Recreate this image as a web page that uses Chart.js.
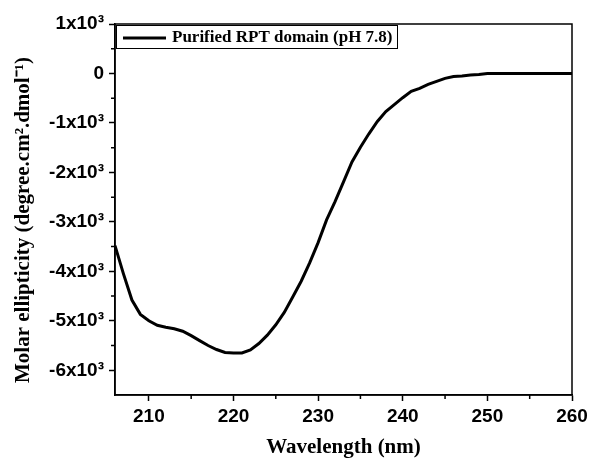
<!DOCTYPE html>
<html>
<head>
<meta charset="utf-8">
<script src="https://cdn.jsdelivr.net/npm/chart.js@4.4.1/dist/chart.umd.min.js"></script>
<style>
html,body{margin:0;padding:0;background:#fff;}
#wrap{width:592px;height:460px;position:relative;}
</style>
</head>
<body>
<div id="wrap"><canvas id="c" width="592" height="460"></canvas></div>
<script>
// ---- data ----
const wavelength = [206,207,208,209,210,211,212,213,214,215,216,217,218,219,220,221,222,223,224,225,226,227,228,229,230,231,232,233,234,235,236,237,238,239,240,241,242,243,244,245,246,247,248,249,250,251,252,253,254,255,256,257,258,259,260];
const ellipticity = [-3480,-4050,-4580,-4870,-5000,-5090,-5130,-5160,-5210,-5300,-5400,-5500,-5580,-5640,-5650,-5650,-5590,-5460,-5290,-5080,-4830,-4520,-4200,-3830,-3420,-2960,-2590,-2190,-1790,-1490,-1220,-970,-770,-630,-490,-360,-300,-220,-160,-100,-60,-50,-30,-20,0,0,0,0,0,0,0,0,0,0,0];
const seriesLabel = "Purified RPT domain (pH 7.8)";
const xMajorTicks = [210,220,230,240,250,260];
const xMinorTicks = [215,225,235,245,255];
const yMajorTicks = [-6000,-5000,-4000,-3000,-2000,-1000,0,1000];
const yMajorLabels = ["-6x10\u00B3","-5x10\u00B3","-4x10\u00B3","-3x10\u00B3","-2x10\u00B3","-1x10\u00B3","0","1x10\u00B3"];
const yMinorTicks = [-5500,-4500,-3500,-2500,-1500,-500,500];
const xTitle = "Wavelength (nm)";
const yTitle = "Molar ellipticity (degree.cm\u00B2.dmol\u207B\u00B9)";

const tickFont = {family: "'Liberation Sans', Arial, sans-serif", size: 19, weight: 'bold'};
const titleFont = {family: "'Liberation Serif', 'Times New Roman', serif", size: 21, weight: 'bold'};

const framePlugin = {
  id: 'frame',
  afterDraw(chart) {
    const {ctx, chartArea: a, scales} = chart;
    ctx.save();
    ctx.strokeStyle = '#000';
    ctx.lineWidth = 1.5;
    ctx.strokeRect(a.left, a.top, a.right - a.left, a.bottom - a.top);
    // minor ticks
    ctx.beginPath();
    xMinorTicks.forEach(v => {
      const x = scales.x.getPixelForValue(v);
      ctx.moveTo(x, a.bottom); ctx.lineTo(x, a.bottom + 4);
    });
    yMinorTicks.forEach(v => {
      const y = scales.y.getPixelForValue(v);
      ctx.moveTo(a.left, y); ctx.lineTo(a.left - 4, y);
    });
    ctx.stroke();
    // legend box
    const bx = a.left + 1.5, by = a.top + 1.5, bw = 281, bh = 23;
    ctx.lineWidth = 1;
    ctx.strokeRect(bx, by, bw, bh);
    ctx.lineWidth = 3;
    ctx.beginPath();
    ctx.moveTo(a.left + 8, by + bh / 2 + 1);
    ctx.lineTo(a.left + 51, by + bh / 2 + 1);
    ctx.stroke();
    ctx.fillStyle = '#000';
    ctx.font = "bold 17px 'Liberation Serif', 'Times New Roman', serif";
    ctx.textBaseline = 'middle';
    ctx.textAlign = 'left';
    ctx.fillText(chart.data.datasets[0].label, a.left + 57, by + bh / 2 + 1);
    ctx.restore();
  }
};

new Chart(document.getElementById('c'), {
  type: 'line',
  data: {
    datasets: [{
      label: seriesLabel,
      data: wavelength.map((w, i) => ({x: w, y: ellipticity[i]})),
      borderColor: '#000',
      borderWidth: 3,
      pointRadius: 0,
      tension: 0,
      fill: false
    }]
  },
  options: {
    responsive: false,
    animation: false,
    devicePixelRatio: 1,
    layout: {padding: {top: 24, right: 20, left: 0, bottom: 0}},
    plugins: {legend: {display: false}, tooltip: {enabled: false}},
    scales: {
      x: {
        type: 'linear',
        min: 206, max: 260,
        afterBuildTicks: s => { s.ticks = xMajorTicks.map(v => ({value: v})); },
        afterFit: s => { s.height = 65; },
        grid: {drawOnChartArea: false, drawTicks: true, tickLength: 6, tickColor: '#000', tickWidth: 1.5},
        border: {display: true, color: '#000', width: 1.5},
        ticks: {color: '#000', font: tickFont, padding: 4, maxRotation: 0, autoSkip: false},
        title: {display: true, text: xTitle, color: '#000', font: titleFont, padding: {top: 0, bottom: 0}}
      },
      y: {
        type: 'linear',
        min: -6500, max: 1000,
        afterBuildTicks: s => { s.ticks = yMajorTicks.map(v => ({value: v})); },
        afterFit: s => { s.width = 115; },
        grid: {drawOnChartArea: false, drawTicks: true, tickLength: 6, tickColor: '#000', tickWidth: 1.5},
        border: {display: true, color: '#000', width: 1.5},
        ticks: {
          color: '#000', font: tickFont, padding: 5, autoSkip: false,
          callback: v => { const i = yMajorTicks.indexOf(v); return i >= 0 ? yMajorLabels[i] : ''; }
        },
        title: {display: true, text: yTitle + "    ", color: '#000', font: titleFont, padding: {top: 11, bottom: 0}}
      }
    }
  },
  plugins: [framePlugin]
});
</script>
</body>
</html>
